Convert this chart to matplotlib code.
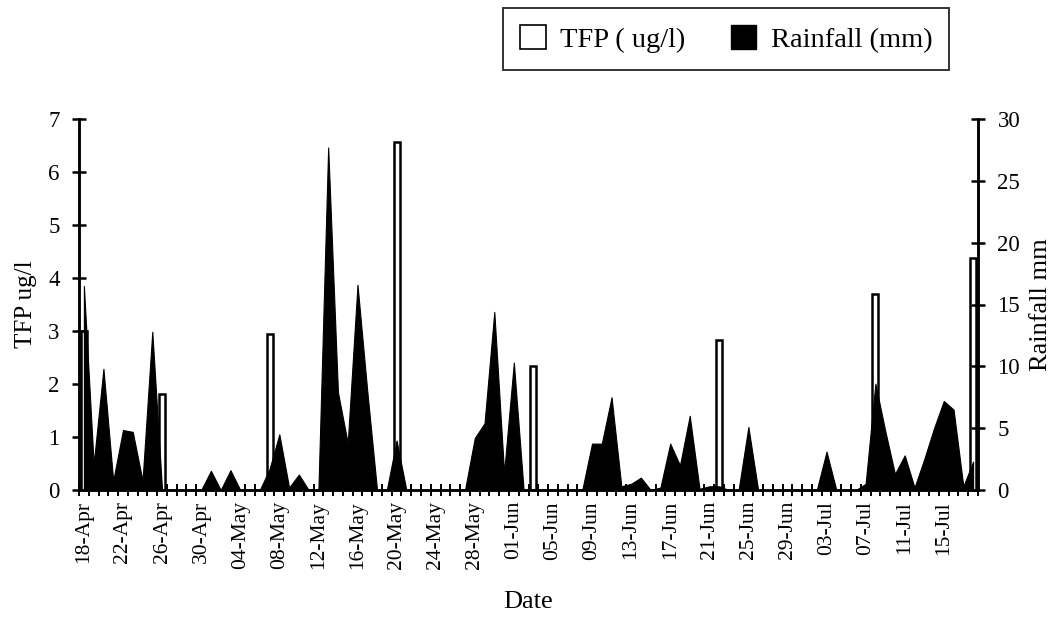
import numpy as np
import pandas as pd
import matplotlib
matplotlib.use("Agg")
import matplotlib.pyplot as plt
from matplotlib.patches import Patch

plt.rcParams['font.family'] = ['Liberation Serif', 'DejaVu Serif']

# ---- data ----
start_date = "2000-04-18"
n_days = 92
dates = pd.date_range(start_date, periods=n_days, freq="D")
date_labels = [d.strftime("%d-%b") for d in dates]

rainfall_mm = [
    16.5, 2.1, 9.8, 0.75, 4.85, 4.7, 0.75, 12.8, 0.0, 0.0,
    0.0, 0.0, 0.0, 1.55, 0.0, 1.6, 0.0, 0.0, 0.0, 1.7,
    4.5, 0.2, 1.25, 0.0, 0.0, 27.7, 7.9, 3.8, 16.6, 8.0,
    0.0, 0.0, 4.0, 0.0, 0.0, 0.0, 0.0, 0.0, 0.0, 0.0,
    4.2, 5.4, 14.4, 1.4, 10.3, 0.0, 0.0, 0.0, 0.0, 0.0,
    0.0, 0.0, 3.75, 3.75, 7.5, 0.3, 0.5, 1.0, 0.0, 0.2,
    3.75, 2.0, 6.0, 0.1, 0.3, 0.3, 0.0, 0.0, 5.1, 0.0,
    0.0, 0.0, 0.0, 0.0, 0.0, 0.0, 3.1, 0.0, 0.0, 0.0,
    0.5, 8.6, 4.8, 1.3, 2.8, 0.2, 2.5, 5.0, 7.2, 6.5,
    0.3, 2.3,
]

tfp_dates = ["18-Apr", "26-Apr", "07-May", "20-May", "03-Jun", "22-Jun", "08-Jul", "18-Jul"]
tfp_values = [3.0, 1.81, 2.94, 6.56, 2.34, 2.83, 3.70, 4.38]

label_step = 4

# ---- figure ----
fig = plt.figure(figsize=(10.6, 6.25), dpi=100)
ax = fig.add_axes([79/1060, 1 - 490/625, (978-79)/1060, (490-119)/625])

x = np.arange(n_days)
tfp_x = [date_labels.index(d) for d in tfp_dates]

ax.bar(tfp_x, tfp_values, width=0.62, facecolor="white", edgecolor="black",
       linewidth=1.8, zorder=2)
ax.set_ylim(0, 7)
ax.set_xlim(-0.5, n_days - 0.5)

ax2 = ax.twinx()
ax2.fill_between(x, rainfall_mm, 0, facecolor="black", edgecolor="black",
                 linewidth=0.8)
ax2.set_ylim(0, 30)
ax2.set_xlim(-0.5, n_days - 0.5)

for a in (ax, ax2):
    a.spines['top'].set_visible(False)
    for s in a.spines.values():
        s.set_linewidth(1.8)

# x ticks: labels every 4 days at category centres, tick marks at boundaries
ax.set_xticks(x[::label_step])
ax.set_xticklabels(date_labels[::label_step], rotation=90, fontsize=15.5)
ax.tick_params(axis='x', which='major', length=0, pad=8)
ax.set_xticks(np.arange(n_days + 1) - 0.5, minor=True)
ax.tick_params(axis='x', which='minor', direction='inout', length=8, width=1.4)

ax.set_yticks(range(0, 8))
ax.tick_params(axis='y', direction='inout', length=10, width=1.8, labelsize=16.5, pad=9)
ax2.set_yticks(range(0, 31, 5))
ax2.tick_params(axis='y', direction='inout', length=10, width=1.8, labelsize=16.5, pad=9)
ax2.tick_params(axis='x', which='both', length=0, labelbottom=False)

ax.set_ylabel("TFP ug/l", fontsize=18, labelpad=8)
ax2.set_ylabel("Rainfall mm", fontsize=19, labelpad=7)
ax.set_xlabel("Date", fontsize=19, labelpad=16)

handles = [Patch(facecolor="white", edgecolor="black", linewidth=1.2),
           Patch(facecolor="black", edgecolor="black")]
leg = fig.legend(handles, ["TFP ( ug/l)", "Rainfall (mm)"], ncol=2,
                 loc="upper left", bbox_to_anchor=(503/1060, 1 - 8/625),
                 fontsize=20.5, frameon=True, fancybox=False, edgecolor="black",
                 handlelength=0.9, handleheight=0.9, columnspacing=1.6,
                 borderpad=0.6, handletextpad=0.5, borderaxespad=0)
leg.get_frame().set_linewidth(1.4)

fig.savefig("out.png", dpi=100)
